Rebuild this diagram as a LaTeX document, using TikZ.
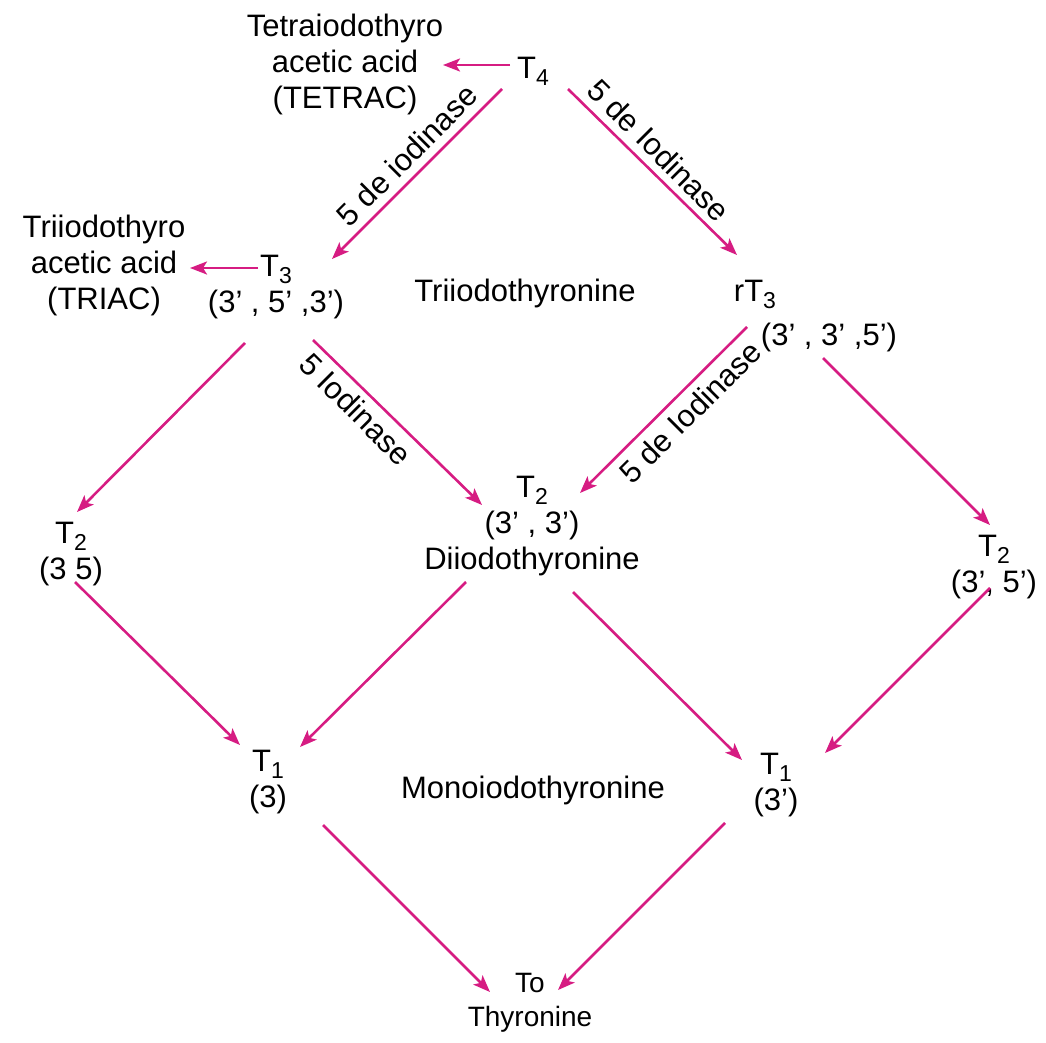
\documentclass[tikz,border=0pt]{standalone}
\usepackage{fontspec}
\setmainfont{Liberation Sans}
\usetikzlibrary{arrows.meta,calc}
\definecolor{pathpink}{RGB}{214,28,130}
% lowered subscript used in the T-number names
\newcommand\lowsub[1]{\raisebox{-7pt}{\fontsize{23}{23}\selectfont #1}}
\begin{document}
\begin{tikzpicture}[x=1pt,y=-1pt,
  every node/.style={inner sep=0pt, outer sep=0pt, align=center,
    font=\fontsize{31}{36}\selectfont},
  conv/.style={draw=pathpink, line width=2.6pt,
    -{Stealth[length=17pt,width=13pt,inset=4pt]}},
  enz/.style={font=\fontsize{31}{36}\selectfont}]
\useasboundingbox (0,0) rectangle (1046,1043);

% compounds
\node (tetrac) at (345,64) {Tetraiodothyro\\acetic acid\\(TETRAC)};
\node[anchor=base] (t4) at (533,79) {T\lowsub{4}};
\node (triac) at (104,265) {Triiodothyro\\acetic acid\\(TRIAC)};
\node (t3) at (276,287) {T\lowsub{3}\\(3' , 5' ,3')};
\node[anchor=base] (tri) at (525,301) {Triiodothyronine};
\node[anchor=base] (rt3) at (755,301) {rT\lowsub{3}};
\node[anchor=base] (rt3pos) at (829,345) {(3' , 3' ,5')};
\node (t2l) at (71,554) {T\lowsub{2}\\(3 5)};
\node (t2c) at (532,526) {T\lowsub{2}\\(3' , 3')\\Diiodothyronine};
\node (t2r) at (994,567) {T\lowsub{2}\\(3', 5')};
\node (t1l) at (268,782) {T\lowsub{1}\\(3)};
\node[anchor=base] (mono) at (533,798) {Monoiodothyronine};
\node (t1r) at (776,785) {T\lowsub{1}\\(3')};
\node[font=\fontsize{28}{34}\selectfont] (thy) at (530,1003) {To\\Thyronine};

% enzyme labels along the deiodination steps
\node[enz, rotate=45] (lab1) at (407,155) {5 de iodinase};
\node[enz, rotate=-45] (lab2) at (659,150) {5 de Iodinase};
\node[enz, rotate=-45] (lab3) at (356,409) {5 Iodinase};
\node[enz, rotate=45] (lab4) at (690,412) {5 de Iodinase};

% conversions
\draw[conv] ($(t4.base)+(-23,-14)$) -- ($(tetrac)+(98,1)$);
\draw[conv] ($(t4.base)+(-31,10)$) -- ($(t3)+(56,-28)$);
\draw[conv] ($(t4.base)+(35,10)$) -- ($(rt3.base)+(-18,-46)$);
\draw[conv] ($(t3)+(-18,-19)$) -- ($(triac)+(86,3)$);
\draw[conv] ($(t3)+(-31,56)$) -- ($(t2l)+(6,-42)$);
\draw[conv] ($(t3)+(37,53)$) -- ($(t2c)+(-50,-21)$);
\draw[conv] ($(rt3.base)+(-8,26)$) -- ($(t2c)+(48,-33)$);
\draw[conv] ($(rt3.base)+(68,57)$) -- ($(t2r)+(-4,-42)$);
\draw[conv] ($(t2l)+(4,28)$) -- ($(t1l)+(-28,-37)$);
\draw[conv] ($(t2c)+(-66,56)$) -- ($(t1l)+(32,-35)$);
\draw[conv] ($(t2c)+(41,66)$) -- ($(t1r)+(-34,-25)$);
\draw[conv] ($(t2r)+(-4,21)$) -- ($(t1r)+(49,-32)$);
\draw[conv] ($(t1l)+(55,43)$) -- ($(thy)+(-40,-11)$);
\draw[conv] ($(t1r)+(-51,38)$) -- ($(thy)+(28,-13)$);
\end{tikzpicture}
\end{document}
